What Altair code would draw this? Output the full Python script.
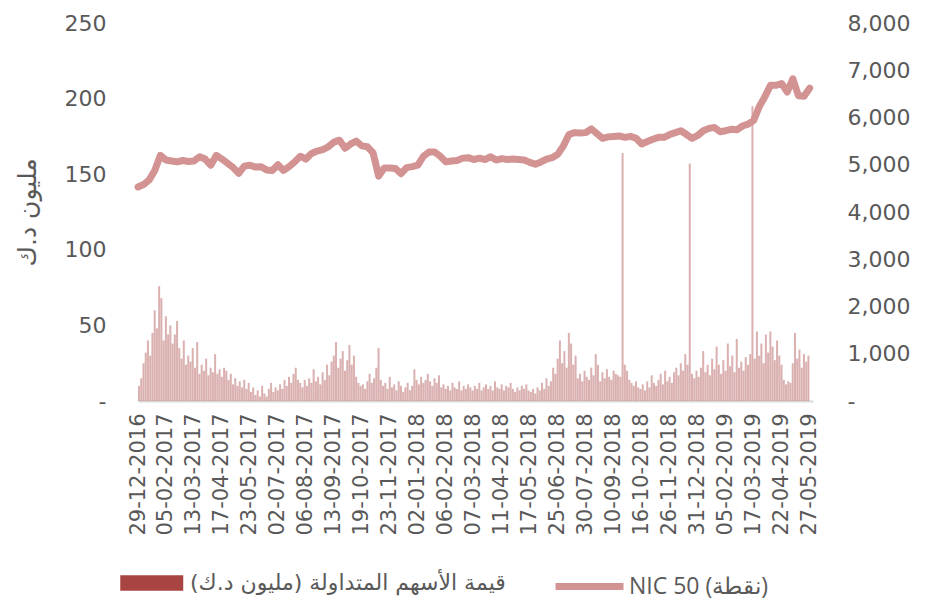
import altair as alt
import pandas as pd

# ---- data ----
x_labels = ["29-12-2016", "05-02-2017", "13-03-2017", "17-04-2017", "23-05-2017",
            "02-07-2017", "06-08-2017", "13-09-2017", "19-10-2017", "23-11-2017",
            "02-01-2018", "06-02-2018", "07-03-2018", "11-04-2018", "17-05-2018",
            "25-06-2018", "30-07-2018", "10-09-2018", "16-10-2018", "26-11-2018",
            "31-12-2018", "05-02-2019", "17-03-2019", "22-04-2019", "27-05-2019"]

# traded value (million KD), one bar per two trading days
bar_values = [
    10, 15, 25, 32, 40, 30, 45, 60, 48, 76, 68, 40, 56, 44, 50, 38, 44, 53, 35, 28, 40, 24, 30, 26, 35,
    22, 39, 18, 24, 20, 28, 17, 22, 19, 31, 18, 21, 16, 22, 20, 14, 18, 11, 15, 10, 13, 9, 14, 8, 12,
    6, 9, 4, 7, 3, 10, 5, 3, 8, 12, 6, 9, 7, 11, 8, 14, 10, 16, 12, 18, 22, 14, 12, 9, 14,
    10, 15, 12, 21, 13, 16, 11, 19, 14, 24, 17, 26, 30, 39, 22, 28, 33, 20, 27, 37, 24, 30, 16, 12, 10,
    11, 8, 13, 18, 12, 15, 22, 35, 14, 10, 12, 8, 16, 9, 11, 7, 13, 10, 6, 9, 12, 7, 10, 21, 14,
    11, 16, 12, 14, 18, 13, 10, 15, 12, 17, 9, 11, 8, 10, 7, 12, 9, 8, 13, 7, 10, 8, 11, 9, 7,
    10, 8, 12, 7, 9, 11, 8, 10, 7, 13, 9, 8, 11, 7, 10, 9, 12, 8, 6, 9, 7, 10, 8, 11, 7,
    6, 8, 5, 9, 7, 12, 8, 15, 10, 13, 22, 18, 28, 40, 25, 33, 22, 45, 38, 24, 30, 15, 18, 13, 20,
    16, 14, 22, 17, 31, 24, 13, 19, 15, 21, 16, 14, 20, 18, 17, 16, 164, 24, 20, 14, 12, 10, 13, 9, 8,
    11, 7, 13, 9, 17, 12, 10, 14, 18, 11, 20, 13, 16, 12, 19, 22, 17, 25, 20, 31, 24, 157, 18, 15, 20,
    16, 22, 33, 19, 24, 17, 28, 21, 36, 24, 18, 27, 20, 38, 23, 30, 19, 41, 22, 26, 20, 29, 24, 31, 195,
    28, 46, 30, 38, 25, 44, 32, 46, 36, 27, 40, 30, 24, 14, 11, 13, 12, 25, 45, 28, 34, 22, 31, 26, 30,
]

# NIC 50 index (points), one value per five trading days
nic_values = [
    4530, 4580, 4680, 4880, 5200, 5100, 5080, 5060, 5090, 5070,
    5080, 5170, 5120, 4990, 5200, 5120, 5030, 4940, 4820, 4970,
    4990, 4950, 4960, 4890, 4880, 5000, 4880, 4960, 5060, 5180,
    5120, 5240, 5290, 5320, 5380, 5480, 5520, 5350, 5440, 5500,
    5400, 5380, 5250, 4760, 4930, 4930, 4920, 4810, 4940, 4960,
    4990, 5180, 5270, 5270, 5180, 5060, 5080, 5090, 5140, 5150,
    5110, 5140, 5110, 5170, 5100, 5130, 5110, 5120, 5110, 5100,
    5050, 5010, 5060, 5120, 5150, 5220, 5400, 5640, 5680, 5670,
    5680, 5760, 5660, 5560, 5590, 5600, 5610, 5580, 5600, 5560,
    5440, 5490, 5540, 5580, 5580, 5640, 5680, 5720, 5640, 5560,
    5620, 5720, 5770, 5790, 5700, 5720, 5750, 5740, 5820, 5860,
    5940, 6230, 6440, 6680, 6680, 6720, 6540, 6820, 6460, 6450, 6620,
]

bar_name = "قيمة الأسهم المتداولة (مليون د.ك)\u200f"
line_name = "NIC 50 (نقطة)"
y_title = "مليون د.ك"

bars_df = pd.DataFrame({
    "start": [2 * k for k in range(len(bar_values))],
    "end": [2 * k + 1.8 for k in range(len(bar_values))],
    "value": bar_values,
    "series": bar_name,
})
line_df = pd.DataFrame({
    "day": [5 * w for w in range(len(nic_values))],
    "nic": nic_values,
    "series": line_name,
})

GREY = "#595959"
label_expr = "[" + ",".join("'%s'" % s for s in x_labels) + "][round(datum.value/25)]"

x_scale = alt.Scale(domain=[0, 603], nice=False, zero=False)


def x_axis():
    return alt.Axis(values=list(range(0, 601, 25)), labelExpr=label_expr,
                    labelAngle=270, labelFont="DejaVu Sans", labelFontSize=21,
                    labelColor=GREY, labelPadding=12, ticks=False, grid=False,
                    domainColor="#d9d9d9", domainWidth=2, title=None,
                    labelOverlap=False, labelBound=False, labelFlush=False)


bars = alt.Chart(bars_df).mark_rect(opacity=0.42).encode(
    x=alt.X("start:Q", scale=x_scale, axis=x_axis()),
    x2="end:Q",
    y=alt.Y("value:Q", scale=alt.Scale(domain=[0, 250], nice=False),
            axis=alt.Axis(values=[0, 50, 100, 150, 200, 250],
                          labelExpr="datum.value == 0 ? '-\u00a0\u00a0' : datum.label",
                          labelFont="DejaVu Sans", labelFontSize=22, labelColor=GREY,
                          labelAlign="right", labelPadding=32, ticks=False, domain=False,
                          grid=False, title=y_title, titleFont="DejaVu Sans",
                          titleFontSize=25, titleFontWeight="normal", titleColor=GREY,
                          titlePadding=24)),
    y2=alt.datum(0),
    color=alt.Color("series:N", scale=alt.Scale(domain=[bar_name], range=["#a84442"]),
                    legend=alt.Legend(orient="none", legendX=-18, legendY=544, title=None,
                                      padding=0, symbolType="M-1,-0.5H3V0.5H-1Z",
                                      symbolSize=992, symbolOpacity=1, symbolStrokeWidth=0,
                                      labelOffset=38, labelFont="DejaVu Sans",
                                      labelFontSize=22, labelColor=GREY, labelLimit=600)),
)

line = alt.Chart(line_df).mark_line(strokeWidth=7, strokeCap="round", strokeJoin="round").encode(
    x=alt.X("day:Q", scale=x_scale, axis=x_axis()),
    y=alt.Y("nic:Q", scale=alt.Scale(domain=[0, 8000], nice=False),
            axis=alt.Axis(values=list(range(0, 8001, 1000)), orient="right",
                          labelExpr="datum.value == 0 ? '-' : format(datum.value, ',')",
                          labelFont="DejaVu Sans", labelFontSize=22, labelColor=GREY,
                          labelAlign="left", labelPadding=9, offset=25, ticks=False,
                          domain=False, grid=False, title=None)),
    stroke=alt.Stroke("series:N", scale=alt.Scale(domain=[line_name], range=["#d39393"]),
                      legend=alt.Legend(orient="none", legendX=414, legendY=543, title=None,
                                        padding=0, symbolType="M-1,0H3", symbolSize=1156,
                                        symbolStrokeWidth=7, labelOffset=36,
                                        labelFont="Open Sans", labelFontSize=23,
                                        labelColor=GREY, labelLimit=600)),
)

chart = alt.layer(bars, line).resolve_scale(
    y="independent", color="independent", stroke="independent"
).properties(
    width=675, height=378,
    autosize=alt.AutoSizeParams(type="none"),
    padding={"left": 130, "top": 15, "right": 100, "bottom": 200},
).configure_view(stroke=None).configure_axisX(labelOverlap=False)

chart.save("out.html", embed_options={"renderer": "svg", "actions": False})
